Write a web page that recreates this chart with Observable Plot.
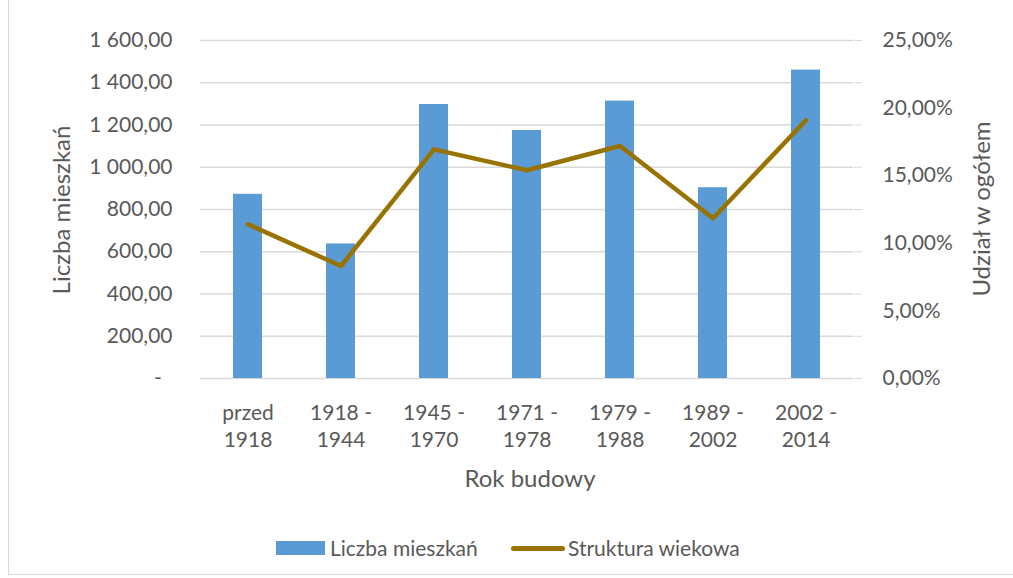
<!DOCTYPE html>
<html><head><meta charset="utf-8">
<script src="https://cdn.jsdelivr.net/npm/d3@7"></script>
<script src="https://cdn.jsdelivr.net/npm/@observablehq/plot@0.6"></script>
<style>
body{margin:0;background:#fff;font-family:Lato,"Open Sans",sans-serif;color:#595959;}
#wrap{position:relative;width:1013px;height:578px;overflow:hidden;}
#frame{position:absolute;left:8px;top:-2px;width:1020px;height:577px;border:1px solid #D9D9D9;box-sizing:border-box;}
.ttl{position:absolute;font-size:24px;color:#595959;white-space:nowrap;transform:translate(-50%,-50%) rotate(-90deg);}
#xt{position:absolute;font-size:24px;left:530px;top:477px;transform:translate(-50%,-50%);}
#legend{position:absolute;top:535px;left:0;width:1013px;height:26px;font-size:21px;}
.sw{position:absolute;}
.lt{position:absolute;top:0;line-height:26px;}
svg{position:absolute;left:0;top:0;}
</style></head>
<body><div id="wrap"><div id="frame"></div></div>
<script>
const categories = ["przed 1918","1918 - 1944","1945 - 1970","1971 - 1978","1979 - 1988","1989 - 2002","2002 - 2014"];
const tickLabels = ["przed\n1918","1918 -\n1944","1945 -\n1970","1971 -\n1978","1979 -\n1988","1989 -\n2002","2002 -\n2014"];
const dwellings = [872, 637, 1297, 1174, 1313, 903, 1460];
const sharePct = [11.41, 8.32, 16.95, 15.40, 17.20, 11.85, 19.10];
const leftTicks = [0, 200, 400, 600, 800, 1000, 1200, 1400, 1600];
const rightTicks = [0, 5, 10, 15, 20, 25];
const leftMax = 1600, rightMax = 25;

const loc = d3.formatLocale({decimal: ",", thousands: "\u00a0", grouping: [3], currency: ["", ""]});
const fNum = loc.format(",.2f");
const fPct = loc.format(".2%");
const toLeft = p => p / rightMax * leftMax;

const bars = categories.map((c, i) => ({c, v: dwellings[i]}));
const line = categories.map((c, i) => ({c, v: toLeft(sharePct[i])}));
const labelOf = Object.fromEntries(categories.map((c, i) => [c, tickLabels[i]]));

const chart = Plot.plot({
  width: 1013, height: 500,
  marginLeft: 200, marginRight: 160, marginTop: 40, marginBottom: 122,
  style: {fontFamily: "Lato, 'Open Sans', sans-serif", fontSize: "21px", color: "#595959", background: "transparent"},
  x: {domain: categories, paddingInner: 0.69, paddingOuter: 0.345},
  y: {domain: [0, leftMax]},
  marks: [
    Plot.gridY(leftTicks, {stroke: "#D9D9D9", strokeOpacity: 1, strokeWidth: 1.5}),
    Plot.barY(bars, {x: "c", y: "v", fill: "#5B9BD5"}),
    Plot.line(line, {x: "c", y: "v", stroke: "#997300", strokeWidth: 4.5, strokeLinecap: "round", strokeLinejoin: "round"}),
    Plot.axisY({ticks: leftTicks, tickSize: 0, tickPadding: 28, label: null,
      tickFormat: d => d === 0 ? "-\u00a0\u00a0" : fNum(d), fill: "#595959"}),
    Plot.axisY({anchor: "right", ticks: leftTicks, tickSize: 8, tickFormat: () => "", label: null, stroke: "#D9D9D9"}),
    Plot.axisY({anchor: "right", ticks: rightTicks.map(toLeft), tickSize: 0, tickPadding: 29, textAnchor: "start",
      tickFormat: d => fPct(d / leftMax * rightMax / 100), label: null, fill: "#595959"}),
    Plot.axisX({tickSize: 0, tickPadding: 22, label: null, tickFormat: d => labelOf[d], lineHeight: 1.3, fill: "#595959"})
  ]
});
const wrap = document.getElementById("wrap");
wrap.appendChild(chart);

function addDiv(cls, text, css) { const d = document.createElement("div"); d.className = cls; d.textContent = text; Object.assign(d.style, css); wrap.appendChild(d); return d; }
addDiv("ttl", "Liczba mieszkań", {left: "60px", top: "210px"});
addDiv("ttl", "Udział w ogółem", {left: "980px", top: "209px"});
const xt = document.createElement("div"); xt.id = "xt"; xt.textContent = "Rok budowy"; wrap.appendChild(xt);

const lg = document.createElement("div"); lg.id = "legend"; wrap.appendChild(lg);
const sw1 = document.createElement("div"); sw1.className = "sw"; Object.assign(sw1.style, {left: "276px", top: "6px", width: "49px", height: "14px", background: "#5B9BD5"}); lg.appendChild(sw1);
const t1 = document.createElement("div"); t1.className = "lt"; t1.style.left = "330px"; t1.textContent = "Liczba mieszkań"; lg.appendChild(t1);
const sw2 = document.createElement("div"); sw2.className = "sw"; Object.assign(sw2.style, {left: "511px", top: "11px", width: "54px", height: "5px", background: "#997300", borderRadius: "3px"}); lg.appendChild(sw2);
const t2 = document.createElement("div"); t2.className = "lt"; t2.style.left = "568px"; t2.textContent = "Struktura wiekowa"; lg.appendChild(t2);
</script>
</body></html>
